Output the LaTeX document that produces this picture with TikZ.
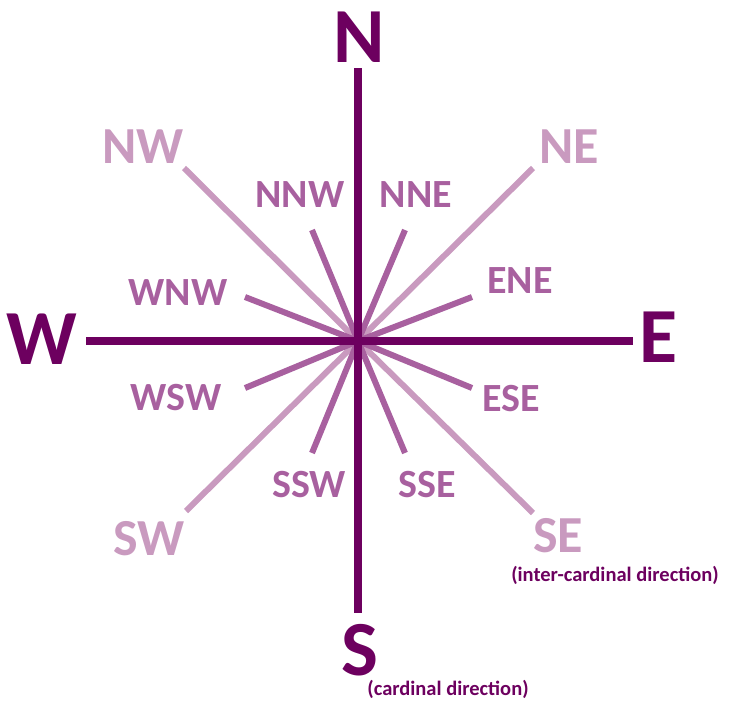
\documentclass[tikz,border=0pt]{standalone}
\usepackage{fontspec}
\setmainfont{Carlito}
\definecolor{cardcol}{HTML}{6D005F}
\definecolor{midcol}{HTML}{A8609F}
\definecolor{intercol}{HTML}{C99ABF}

\begin{document}
\begin{tikzpicture}[x=1pt,y=-1pt,
  card/.style={font=\fontsize{78}{80}\selectfont\bfseries,text=cardcol,anchor=base,inner sep=0pt},
  inter/.style={font=\fontsize{52}{54}\selectfont\bfseries,text=intercol,anchor=base,inner sep=0pt},
  minor/.style={font=\fontsize{40}{42}\selectfont\bfseries,text=midcol,anchor=base,inner sep=0pt},
  note/.style={font=\fontsize{20.5}{22}\selectfont\bfseries,text=cardcol,anchor=base,inner sep=0pt},
  cline/.style={draw=cardcol,line width=7.5pt},
  iline/.style={draw=intercol,line width=6pt},
  mline/.style={draw=midcol,line width=6pt}]
  \useasboundingbox (0,0) rectangle (729,702);
  \coordinate (c) at (358,341);
  % ends of the rays
  \foreach \n/\px/\py in {n0/358/68,s0/358/613,w0/86/341,e0/633/341,
      ne0/533/168,nw0/184/168,se0/533/513,sw0/186/511,
      nne0/405/230,nnw0/312/230,ene0/472/297,wnw0/245/297,
      ese0/472/388,wsw0/245/388,sse0/405/453,ssw0/312/453}
    \coordinate (\n) at (\px,\py);
  \foreach \n in {ne0,nw0,se0,sw0} \draw[iline] (c) -- (\n);
  \foreach \n in {nne0,nnw0,ene0,wnw0,ese0,wsw0,sse0,ssw0} \draw[mline] (c) -- (\n);
  \draw[cline] (n0) -- (s0);
  \draw[cline] (w0) -- (e0);
  % labels
  \node[card] (N) at (359,62) {N};
  \node[card] (S) at (360,675) {S};
  \node[card] (W) at (42,364) {W};
  \node[card] (E) at (659,362) {E};
  \node[inter] (NW) at (143,163) {NW};
  \node[inter] (NE) at (569,163) {NE};
  \node[inter] (SW) at (149,555) {SW};
  \node[inter] (SE) at (558,552) {SE};
  \node[minor] (NNW) at (300,207) {NNW};
  \node[minor] (NNE) at (416,207) {NNE};
  \node[minor] (WNW) at (178,305) {WNW};
  \node[minor] (ENE) at (520,293) {ENE};
  \node[minor] (WSW) at (176,410) {WSW};
  \node[minor] (ESE) at (511,411) {ESE};
  \node[minor] (SSW) at (309,497) {SSW};
  \node[minor] (SSE) at (427,497) {SSE};
  \node[note] (intnote) at (615,581) {(inter-cardinal direction)};
  \node[note] (cardnote) at (448,695) {(cardinal direction)};
\end{tikzpicture}
\end{document}
